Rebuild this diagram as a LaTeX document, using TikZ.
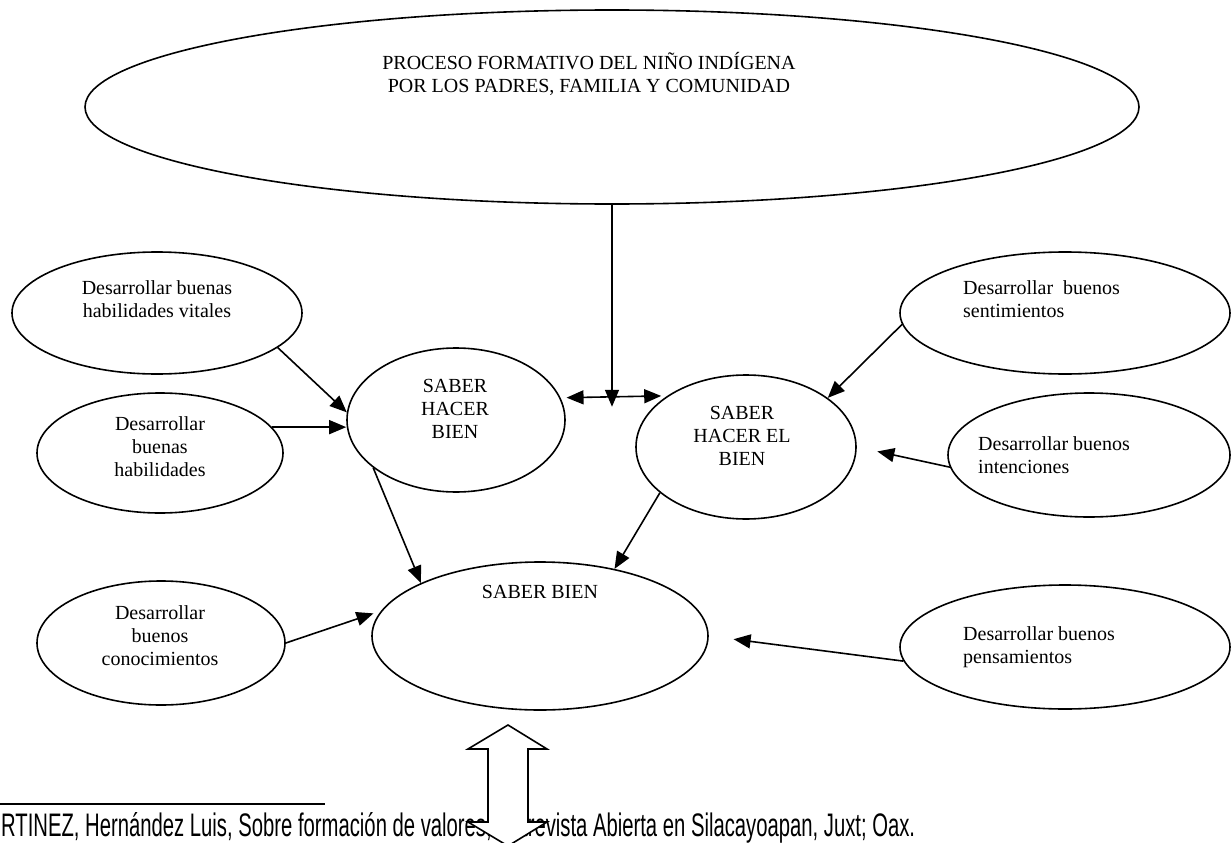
\documentclass[tikz,border=0pt]{standalone}
\usepackage{fontspec}
\usepackage{graphicx}
\setmainfont{Liberation Serif}
\newfontfamily\notefont{Liberation Sans}
\usetikzlibrary{shapes.geometric,arrows.meta}

\tikzset{
  oval/.style={draw, ellipse, line width=1.6pt, inner sep=0pt},
  lbl/.style={font=\fontsize{20pt}{23pt}\selectfont, align=center, inner sep=0pt},
  lbll/.style={lbl, align=left, anchor=west},
  tip/.tip={Triangle[length=17pt,width=14pt]},
  arr/.style={line width=1.6pt, -tip},
  dblarr/.style={line width=1.6pt, tip-tip},
}

\begin{document}
\begin{tikzpicture}[x=1pt,y=-1pt]
\useasboundingbox (0,0) rectangle (1232,843);
\clip (0,0) rectangle (1232,843);

% main theme
\node[oval, minimum width=1054pt, minimum height=194pt] (top) at (612,107) {};
\node[lbl] (toptxt) at (589,74) {PROCESO FORMATIVO DEL NIÑO INDÍGENA\\POR LOS PADRES, FAMILIA Y COMUNIDAD};

% central nodes
\node[oval, minimum width=218pt, minimum height=144pt] (shb) at (456,420) {};
\node[lbl] (shbtxt) at (455,409) {SABER\\HACER\\BIEN};
\node[oval, minimum width=220pt, minimum height=144pt] (sheb) at (746,447) {};
\node[lbl] (shebtxt) at (742,436) {SABER\\HACER EL\\BIEN};
\node[oval, minimum width=336pt, minimum height=148pt] (sb) at (540,636) {};
\node[lbl] (sbtxt) at (540,592) {SABER BIEN};

% left side
\node[oval, minimum width=290pt, minimum height=122pt] (l1) at (157,313) {};
\node[lbl] (l1txt) at (157,299) {Desarrollar buenas\\habilidades vitales};
\node[oval, minimum width=246pt, minimum height=120pt] (l2) at (160,453) {};
\node[lbl] (l2txt) at (160,447) {Desarrollar\\buenas\\habilidades};
\node[oval, minimum width=248pt, minimum height=124pt] (l3) at (161,643) {};
\node[lbl] (l3txt) at (160,636) {Desarrollar\\buenos\\conocimientos};

% right side
\node[oval, minimum width=330pt, minimum height=122pt] (r1) at (1065,313) {};
\node[lbll] (r1txt) at (963,299) {Desarrollar~ buenos\\sentimientos};
\node[oval, minimum width=282pt, minimum height=124pt] (r2) at (1089,455) {};
\node[lbll] (r2txt) at (978,455) {Desarrollar buenos\\intenciones};
\node[oval, minimum width=330pt, minimum height=124pt] (r3) at (1065,647) {};
\node[lbll] (r3txt) at (963,647) {Desarrollar buenos\\pensamientos};

% link between the two "saber hacer" nodes, fed from the theme
\draw[dblarr, shorten <=6pt, shorten >=6pt] (shb.12.6) -- (sheb.147.7);
\coordinate (hub) at (top.south |- shb.12.6);
\draw[arr, shorten >=-9pt] (top.south) -- (hub);

% incoming arrows
\draw[arr] (l1.-16) -- (shb.176);
\draw[arr] (l2.13) -- (l2.13 -| shb.west);
\draw[arr, shorten >=8pt] (l3.east) -- (sb.171);
\draw[arr] (shb.210) -- (sb.156);
\draw[arr] (sheb.208) -- (sb.42);
\draw[arr] (r1.184) -- (sheb.31);
\draw[arr, shorten >=21pt] (r2.185) -- (sheb.east);
\draw[arr, shorten >=25pt] (r3.185) -- (sb.east);

% footnote
\draw[line width=1.6pt] (0,804) coordinate (rulea) -- (325,804) coordinate (ruleb);
\node[anchor=base west, inner sep=0pt] (note) at (1,836)
  {\resizebox{914pt}{24pt}{\notefont RTINEZ, Hernández Luis, Sobre formación de valores, Entrevista Abierta en Silacayoapan, Juxt; Oax.}};

% vertical block double arrow
\draw[line width=1.6pt, fill=white, line join=miter]
  (508,725) -- (547,749) -- (528,749) -- (528,822) -- (547,822) -- (508,846)
  -- (468,822) -- (488,822) -- (488,749) -- (468,749) -- cycle;
\end{tikzpicture}
\end{document}
